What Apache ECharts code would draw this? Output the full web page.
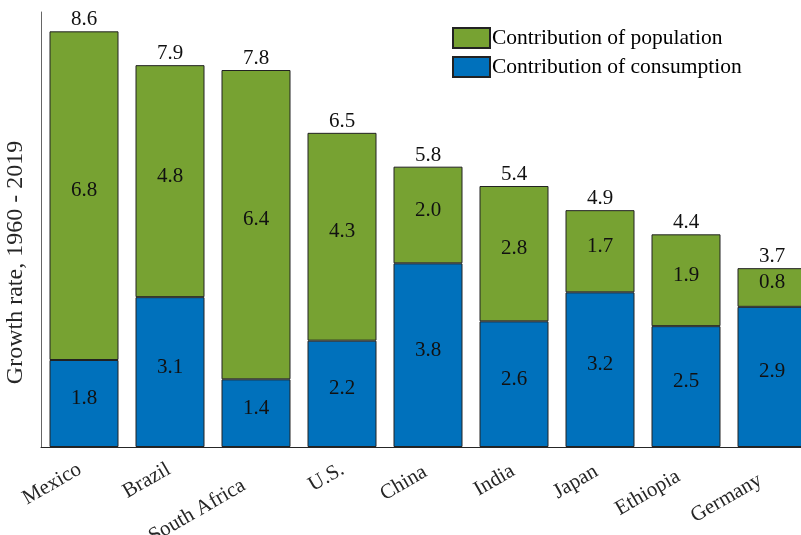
<!DOCTYPE html>
<html>
<head>
<meta charset="utf-8">
<script src="https://cdn.jsdelivr.net/npm/echarts@6/dist/echarts.min.js"></script>
<style>
html,body{margin:0;padding:0;background:#fff;overflow:hidden;width:801px;height:535px;}
#chart{width:815px;height:535px;}
</style>
</head>
<body>
<div id="chart"></div>
<script>
var countries = ['Mexico','Brazil','South Africa','U.S.','China','India','Japan','Ethiopia','Germany'];
var consumption = [1.8,3.1,1.4,2.2,3.8,2.6,3.2,2.5,2.9];
var population = [6.8,4.8,6.4,4.3,2.0,2.8,1.7,1.9,0.8];
var totals = [8.6,7.9,7.8,6.5,5.8,5.4,4.9,4.4,3.7];
var yName = 'Growth rate, 1960 - 2019';

var FONT = "'Liberation Serif','Times New Roman',serif";
// per-label fine placement of the rotated tick labels (padding: top, right)
var labelPads = [[1,5],[4,2.4],[21,20],[6,1],[7,5],[7,3],[5,5.6],[10,11.5],[12,17]];
var rich = {};
countries.forEach(function(c, i){
  rich['l' + i] = {fontFamily:FONT, fontSize:21, color:'#262626', padding:[labelPads[i][0], labelPads[i][1], 0, 0]};
});
var chart = echarts.init(document.getElementById('chart'));
chart.setOption({
  animation:false,
  textStyle:{fontFamily:FONT},
  grid:{left:41, top:12, width:774, height:435, outerBoundsMode:'none', containLabel:false},
  legend:{
    orient:'vertical', left:452, top:27, padding:0, itemWidth:37, itemHeight:20, itemGap:7,
    icon:'rect',
    data:['Contribution of population','Contribution of consumption'],
    textStyle:{fontFamily:FONT, fontSize:21.5, color:'#000', padding:[0,0,0,-3]}
  },
  xAxis:{
    type:'category', data:countries,
    axisLine:{lineStyle:{color:'#262626', width:1}},
    axisTick:{show:true, inside:true, alignWithLabel:true, length:3, lineStyle:{color:'#bbb'}},
    axisLabel:{rotate:30, fontFamily:FONT, fontSize:21, color:'#262626', margin:18,
      formatter:function(v, i){ return '{l' + i + '|' + v + '}'; },
      rich:rich
    }
  },
  yAxis:{
    type:'value', min:0, max:9,
    axisLine:{show:true, lineStyle:{color:'#666'}},
    axisTick:{show:false}, axisLabel:{show:false}, splitLine:{show:false},
    name:yName, nameLocation:'middle', nameGap:13,
    nameTextStyle:{fontFamily:FONT, fontSize:24, color:'#262626', padding:[0,66,0,0]}
  },
  series:[
    {
      name:'Contribution of consumption', type:'bar', stack:'a', barWidth:69, z:3,
      data:consumption,
      itemStyle:{color:'#0071BC', borderColor:'#222', borderWidth:1},
      label:{show:true, position:'inside', offset:[0,-5], fontFamily:FONT, fontSize:21, color:'#111'}
    },
    {
      name:'Contribution of population', type:'bar', stack:'a', barWidth:69, z:3,
      data:population,
      itemStyle:{color:'#77A232', borderColor:'#222', borderWidth:1},
      label:{show:true, position:'inside', offset:[0,-5], fontFamily:FONT, fontSize:21, color:'#111',
        formatter:function(p){return p.value.toFixed(1);}}
    },
    {
      name:'total', type:'bar', barWidth:69, barGap:'-100%', z:1,
      data:totals,
      itemStyle:{color:'rgba(0,0,0,0)', borderWidth:0},
      label:{show:true, position:'top', distance:1, fontFamily:FONT, fontSize:21, color:'#111',
        formatter:function(p){return p.value.toFixed(1);}},
      tooltip:{show:false}
    }
  ]
});
</script>
</body>
</html>
